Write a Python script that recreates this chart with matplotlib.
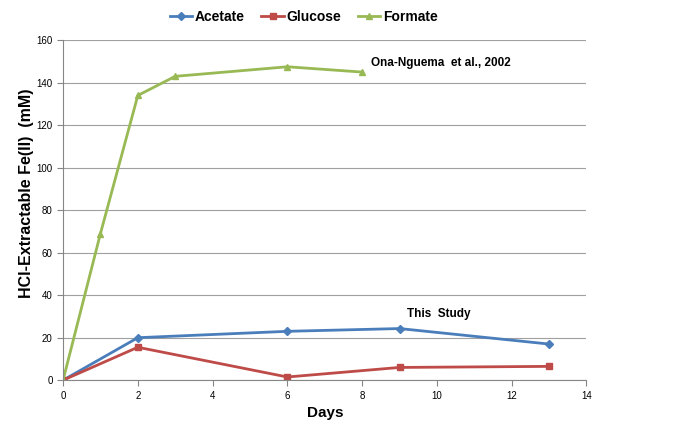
import matplotlib.pyplot as plt

# values
acetate_days = [0, 2, 6, 9, 13]
acetate_fe = [0, 20, 23, 24.3, 17]
glucose_days = [0, 2, 6, 9, 13]
glucose_fe = [0, 15.5, 1.5, 6, 6.5]
formate_days = [0, 1, 2, 3, 6, 8]
formate_fe = [0, 69, 134, 143, 147.5, 145]

plt.rcParams['font.family'] = ['Liberation Sans', 'DejaVu Sans']

fig = plt.figure(figsize=(6.78, 4.37), dpi=100)
ax = fig.add_axes([0.093, 0.130, 0.772, 0.778])

ax.plot(acetate_days, acetate_fe, color='#4A7EBB', marker='D', markersize=4, lw=2, label='Acetate')
ax.plot(glucose_days, glucose_fe, color='#BE4B48', marker='s', markersize=5, lw=2, label='Glucose')
ax.plot(formate_days, formate_fe, color='#98B954', marker='^', markersize=5, lw=2, label='Formate')

ax.set_xlim(0, 14)
ax.set_ylim(0, 160)
ax.set_xticks(range(0, 15, 2))
ax.set_yticks(range(0, 161, 20))
ax.grid(axis='y', color='#A0A0A0', lw=0.8)
ax.set_axisbelow(True)
for s in ['top', 'right']:
    ax.spines[s].set_visible(False)
ax.spines['left'].set_color('#868686')
ax.spines['bottom'].set_color('#868686')
ax.tick_params(labelsize=7, color='#868686', length=4)

ax.set_xlabel('Days', fontsize=11, fontweight='bold', labelpad=4)
ax.set_ylabel('HCl-Extractable Fe(II)  (mM)', fontsize=11.5, fontweight='bold')
ax.yaxis.set_label_coords(-0.055, 0.55)

ax.text(8.25, 149.5, 'Ona-Nguema  et al., 2002', fontsize=8.5, fontweight='bold', va='center')
ax.text(9.2, 31, 'This  Study', fontsize=8.5, fontweight='bold', va='center')

fig.legend(loc='center', bbox_to_anchor=(0.448, 0.962), ncol=3, frameon=False,
           prop={'size': 10, 'weight': 'bold'}, handlelength=1.6, columnspacing=1.2, handletextpad=0.2)

fig.savefig('out.png')
